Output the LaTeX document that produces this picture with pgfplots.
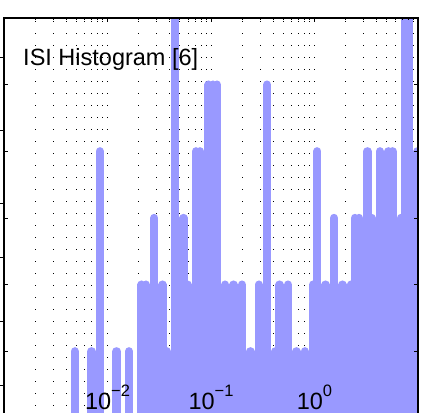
\documentclass[border=0pt]{standalone}
\usepackage{pgfplots}
\pgfplotsset{compat=1.18}
\usepackage{fontspec}
\setmainfont{Liberation Sans}
\definecolor{barblue}{RGB}{153,153,255}
% grid under the bars, ticks, axis lines and tick labels over them
\pgfplotsset{
  layers/gridbelow/.define layer set={
    axis background,axis grid,pre main,main,axis ticks,axis lines,axis tick labels,axis descriptions,axis foreground
  }{
    grid style={/pgfplots/on layer=axis grid},
    tick style={/pgfplots/on layer=axis ticks},
    axis line style={/pgfplots/on layer=axis lines},
    ticklabel style={/pgfplots/on layer=axis tick labels},
  },
}
\newcommand{\tp}[1]{{\fontsize{23.5bp}{28bp}\selectfont 10\raisebox{13bp}{\fontsize{16.5bp}{16.5bp}\selectfont #1}}}
\begin{document}
\begin{tikzpicture}
\begin{axis}[
  set layers=gridbelow,
  at={(4bp,-5bp)}, anchor=south west,
  scale only axis, width=414bp, height=400bp,
  xmode=log, xmin=0.001, xmax=10, ymin=0, ymax=6,
  xtick={0.001,0.01,0.1,1,10},
  xticklabels={,\tp{−2},\tp{−1},\tp{0},},
  xticklabel style={anchor=base, inner sep=0pt, yshift=9bp},
  ytick={0,1,...,6}, yticklabels={},
  extra y ticks={0.495,1.455,2.415,3.225,4.32,5.415},
  extra y tick labels={},
  extra y tick style={tick align=outside, ytick pos=left},
  xmajorgrids, xminorgrids,
  major grid style={black, line width=0.9bp, dash pattern=on 0.9bp off 11.1bp},
  minor grid style={black, line width=0.9bp, dash pattern=on 0.9bp off 11.1bp},
  major tick length=4bp, minor tick length=2.5bp,
  tick style={black, line width=0.8bp},
  axis line style={line width=1.2bp},
]
\addplot[ycomb, barblue, line width=8.36bp, line cap=round, mark=none] table[x=x, y=c] {
x c
0.004825 1
0.006998 1
0.008428 4
0.012232 1
0.016166 1
0.021371 2
0.023457 2
0.028249 3
0.034021 2
0.037342 1
0.044978 7
0.054175 3
0.059466 2
0.071614 4
0.078614 4
0.09467 5
0.10390 5
0.11402 5
0.13732 2
0.16543 2
0.19925 2
0.24002 1
0.28907 2
0.34813 5
0.41933 1
0.46026 2
0.55437 2
0.66758 1
0.80441 1
0.96873 2
1.0631 4
1.2805 2
1.5424 3
1.8578 2
2.2376 2
2.4562 3
2.6956 3
3.2469 4
3.5630 3
4.2910 4
5.1694 4
5.6734 4
6.8314 3
7.4989 7
8.2302 7
9.9129 4
};
\node[anchor=base west, inner sep=0pt, font=\fontsize{23.5bp}{28bp}\selectfont]
  at (axis description cs:0.046,0.88) {ISI Histogram [6]};
\end{axis}
\pgfresetboundingbox
\path[use as bounding box] (0,0) rectangle (421bp,413bp);
\end{tikzpicture}
\end{document}
